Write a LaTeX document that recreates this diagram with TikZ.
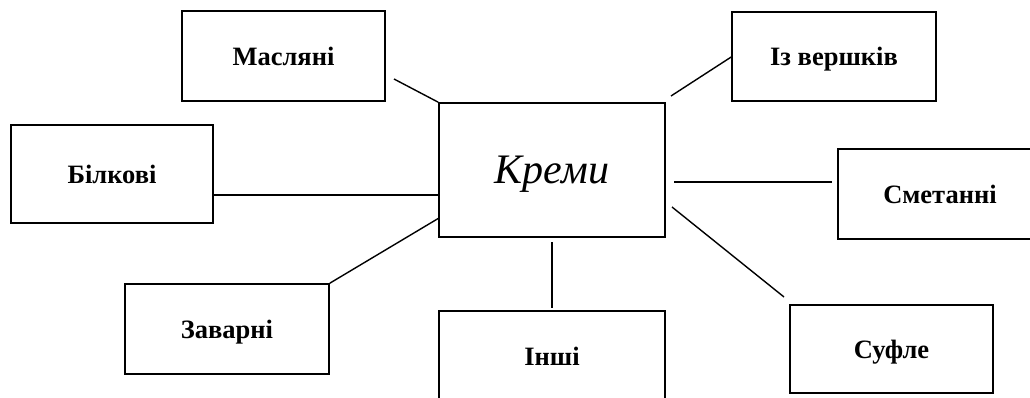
\documentclass[tikz,border=0pt]{standalone}
\usepackage{fontspec}
\setmainfont{Liberation Serif}
\begin{document}
\begin{tikzpicture}[x=1pt,y=-1pt,
  box/.style={draw, line width=1.6pt, inner sep=0pt, text depth=0pt, font=\fontsize{26.5}{29}\selectfont\bfseries},
  link/.style={line width=1.4pt}]
\useasboundingbox (0,0) rectangle (1030,398);
\node[box, minimum width=203pt, minimum height=90pt] (mas) at (283.5,56) {Масляні};
\node[box, minimum width=204pt, minimum height=89pt] (ver) at (834,56.5) {Із вершків};
\node[box, minimum width=226pt, minimum height=134pt, font=\fontsize{42}{46}\selectfont\itshape] (kremy) at (552,170) {Креми};
\node[box, minimum width=202pt, minimum height=98pt] (bil) at (112,174) {Білкові};
\node[box, minimum width=210pt, minimum height=90pt] (smet) at (943,194) {\hspace*{-6pt}Сметанні};
\node[box, minimum width=204pt, minimum height=90pt] (zav) at (227,329) {Заварні};
\node[box, minimum width=226pt, minimum height=90pt] (inshi) at (552,356) {Інші};
\node[box, minimum width=203pt, minimum height=88pt] (sufle) at (891.5,349) {Суфле};
% connector end points
\coordinate (m1) at (394,79);
\coordinate (v1) at (671,96);
\coordinate (b2) at (439,195);
\coordinate (s1) at (674,182);
\coordinate (s2) at (832,182);
\coordinate (z2) at (439,218);
\coordinate (i1) at (552,242);
\coordinate (i2) at (552,308);
\coordinate (f1) at (672,207);
\coordinate (f2) at (784,297);
\draw[link] (m1) -- (kremy.north west);
\draw[link] (v1) -- (ver.west |- 0,57);
\draw[link] (bil.east |- b2) -- (b2);
\draw[link] (s1) -- (s2);
\draw[link] (zav.north east) -- (z2);
\draw[link] (i1) -- (i2);
\draw[link] (f1) -- (f2);
\end{tikzpicture}
\end{document}
